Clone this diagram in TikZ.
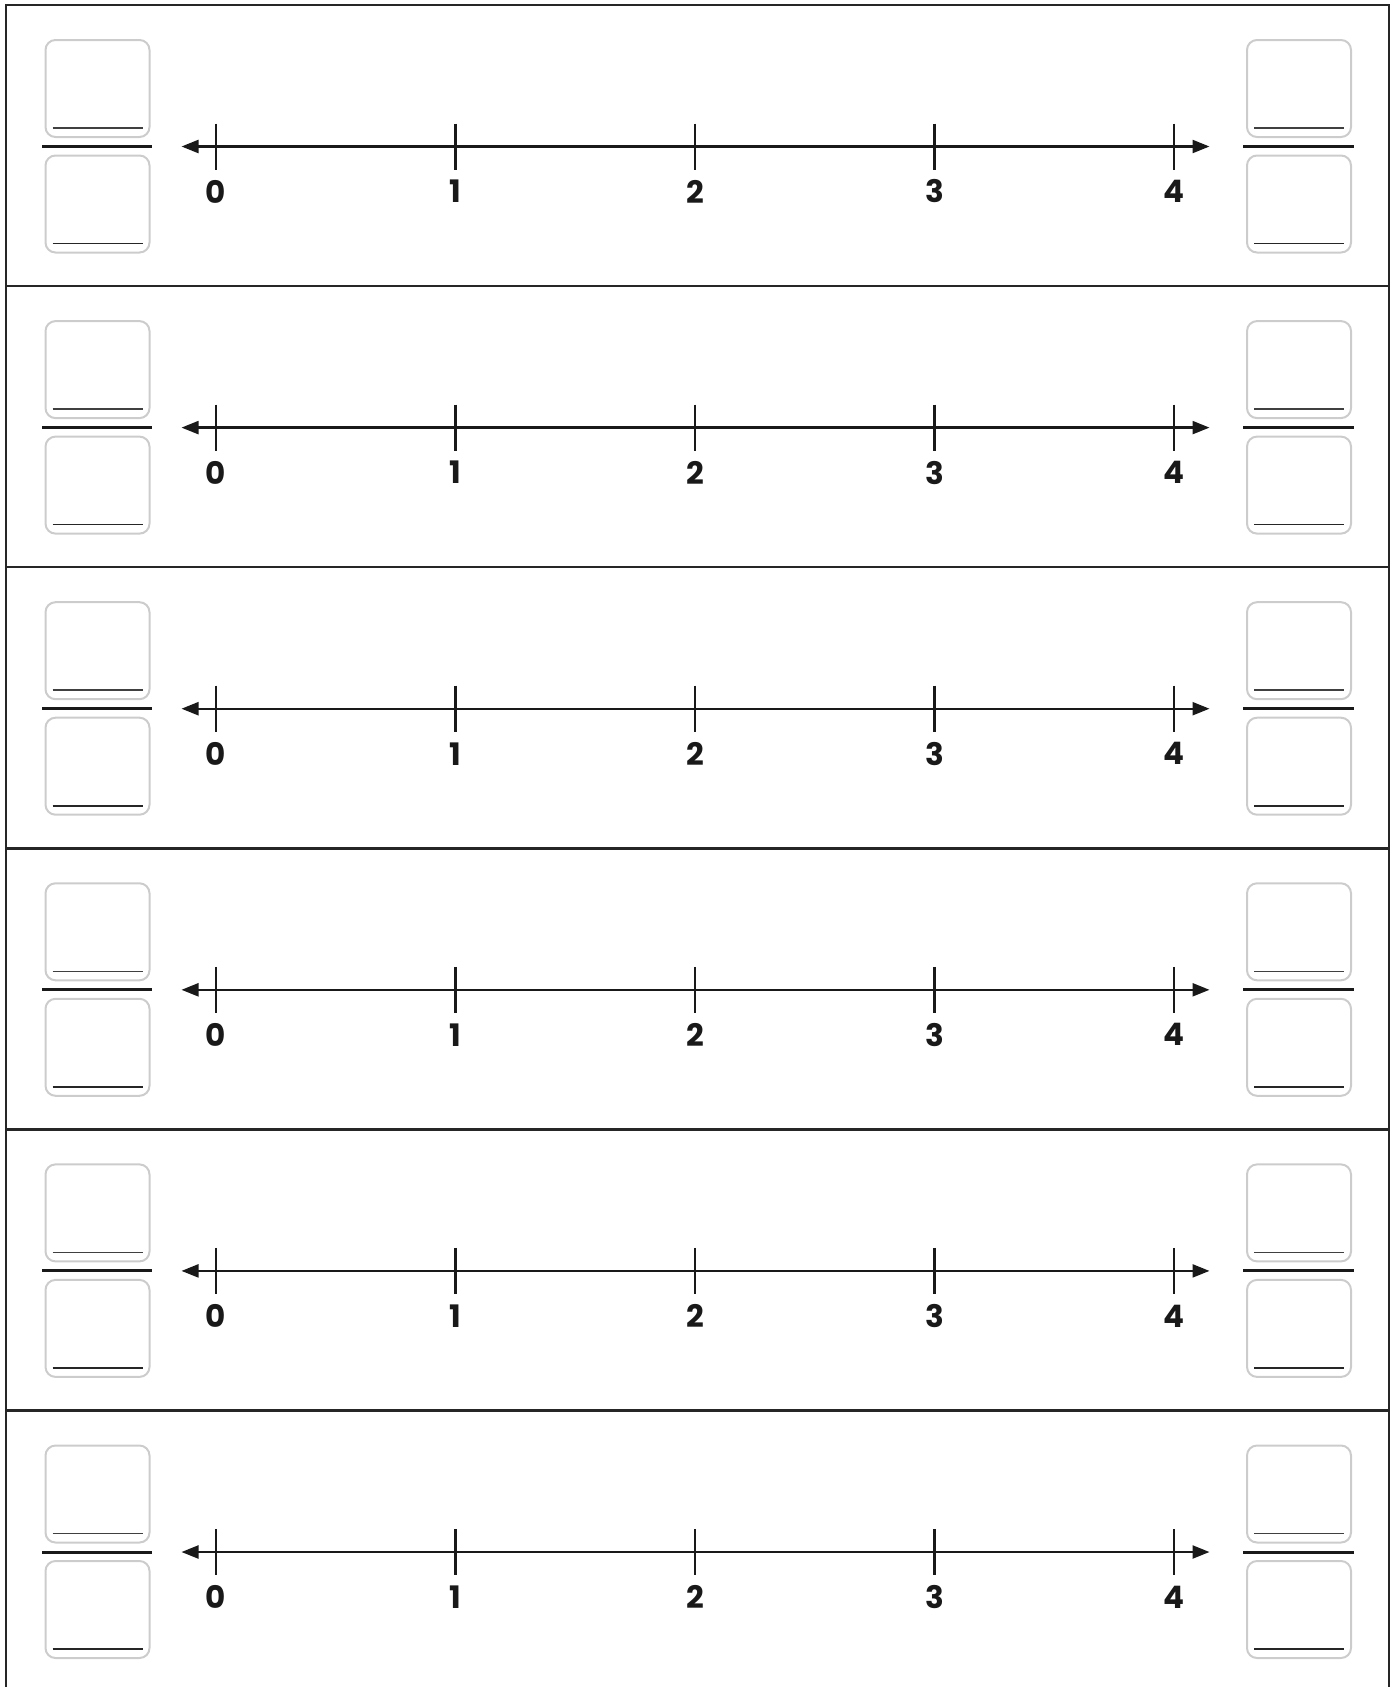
\documentclass[tikz,border=0pt]{standalone}
\usepackage{fontspec}
\setmainfont{Poppins}
\usetikzlibrary{arrows.meta}
\begin{document}
\begin{tikzpicture}[x=1pt,y=-1pt,
  frameline/.style={line width=2.5pt,draw=black!85},
  ansbox/.style={draw=black!20,line width=2pt,rounded corners=10pt,minimum width=104pt,minimum height=97pt,inner sep=0pt},
  writeline/.style={line width=1.6pt,draw=black!85},
  fracbar/.style={line width=3pt,draw=black!90},
  numline/.style={line width=2.3pt,draw=black!90,{Triangle[length=17pt,width=13pt]}-{Triangle[length=17pt,width=13pt]}},
  tickmark/.style={line width=2.3pt,draw=black!90},
  ticklabel/.style={font=\fontsize{31}{36}\selectfont\bfseries,inner sep=0pt,text=black!90}]
\useasboundingbox (0,0) rectangle (1397,1687);
% frame
\coordinate (tl) at (6,5);
\coordinate (tr) at (1389,5);
\coordinate (bl) at (6,1687);
\coordinate (br) at (1389,1687);
\draw[frameline] (bl) -- (tl) -- (tr) -- (br);
\foreach \r in {1,...,5}{
  \coordinate (sepL\r) at (6,{5+281.1*\r});
  \coordinate (sepR\r) at (1389,{5+281.1*\r});
  \draw[frameline] (sepL\r) -- (sepR\r);
}
\foreach \r in {0,...,5}{
  \pgfmathsetmacro{\yo}{146.5+281.1*\r}
  % answer boxes
  \node[ansbox] (LT\r) at (97.5,\yo-58) {};
  \node[ansbox] (LB\r) at (97.5,\yo+57.5) {};
  \node[ansbox] (RT\r) at (1299,\yo-58) {};
  \node[ansbox] (RB\r) at (1299,\yo+57.5) {};
  \draw[writeline,draw=black!75] ([xshift=8pt,yshift=10pt]LT\r.south west) -- ([xshift=-8pt,yshift=10pt]LT\r.south east);
  \draw[writeline] ([xshift=8pt,yshift=10pt]LB\r.south west) -- ([xshift=-8pt,yshift=10pt]LB\r.south east);
  \draw[writeline,draw=black!75] ([xshift=8pt,yshift=10pt]RT\r.south west) -- ([xshift=-8pt,yshift=10pt]RT\r.south east);
  \draw[writeline] ([xshift=8pt,yshift=10pt]RB\r.south west) -- ([xshift=-8pt,yshift=10pt]RB\r.south east);
  % fraction bars
  \coordinate (LF1\r) at (42,\yo);
  \coordinate (LF2\r) at (152,\yo);
  \coordinate (RF1\r) at (1243,\yo);
  \coordinate (RF2\r) at (1354,\yo);
  \draw[fracbar] (LF1\r) -- (LF2\r);
  \draw[fracbar] (RF1\r) -- (RF2\r);
  % number line
  \coordinate (NA\r) at (181.5,\yo);
  \coordinate (NB\r) at (1209.5,\yo);
  \draw[numline] (NA\r) -- (NB\r);
  \foreach \k in {0,...,4}{
    \coordinate (TU\r-\k) at ({216+239.5*\k},\yo-23);
    \coordinate (TD\r-\k) at ({216+239.5*\k},\yo+23);
    \draw[tickmark] (TU\r-\k) -- (TD\r-\k);
    \node[ticklabel] (lab\r-\k) at ({216+239.5*\k},\yo+45) {\k};
  }
}
\end{tikzpicture}
\end{document}
